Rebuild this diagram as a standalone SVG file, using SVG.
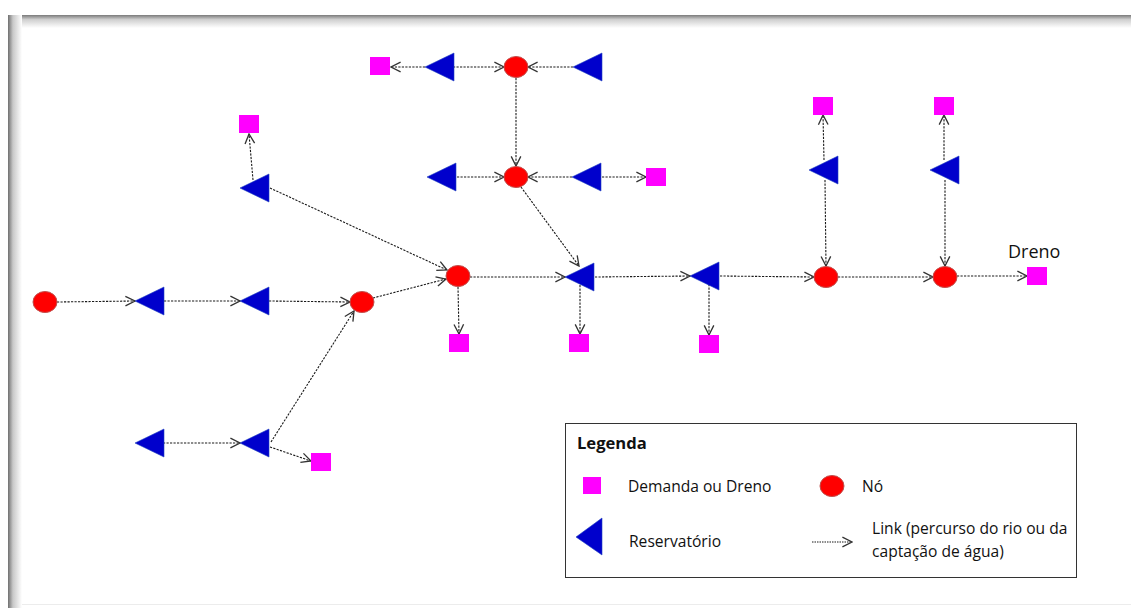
<svg xmlns="http://www.w3.org/2000/svg" width="1131" height="608" viewBox="0 0 1131 608">
<defs>
<linearGradient id="shTop" x1="0" y1="0" x2="0" y2="1">
<stop offset="0" stop-color="#7a7a7a"/><stop offset="0.35" stop-color="#cfcfcf"/><stop offset="1" stop-color="#ffffff"/>
</linearGradient>
<linearGradient id="shLeft" x1="0" y1="0" x2="1" y2="0">
<stop offset="0" stop-color="#6f6f6f"/><stop offset="0.35" stop-color="#c8c8c8"/><stop offset="1" stop-color="#ffffff"/>
</linearGradient>
<marker id="arr" markerUnits="userSpaceOnUse" markerWidth="12" markerHeight="12" viewBox="0 0 10 10" refX="9" refY="5" orient="auto">
<path d="M1,1 L9,5 L1,9" fill="none" stroke="#333" stroke-width="1.1"/>
</marker>
<polygon id="tri" points="0,0 29,-14 29,14"/>
</defs>
<style>
.lnk{fill:none;stroke:#1a1a1a;stroke-width:1.1;stroke-dasharray:2.2 1.3;marker-end:url(#arr)}
.nd{fill:#ff0000;stroke:#c0504d;stroke-width:1}
.rs{fill:#0000cc;stroke:#1f3fbf;stroke-width:0.6}
.dm{fill:#ff00ff}
.t{font-family:"Open Sans","Liberation Sans",sans-serif;font-size:15.6px;fill:#111}
</style>
<rect x="0" y="0" width="1131" height="608" fill="#ffffff"/>
<rect x="8" y="15" width="1123" height="13" fill="url(#shTop)"/>
<rect x="8" y="15" width="14" height="593" fill="url(#shLeft)"/>
<line x1="22" y1="604.5" x2="1131" y2="604.5" stroke="#ececec" stroke-width="1"/>

<g id="connectors">
<line class="lnk" x1="57" y1="302" x2="135" y2="301"/>
<line class="lnk" x1="164" y1="301" x2="240" y2="301"/>
<line class="lnk" x1="269" y1="301" x2="350" y2="302"/>
<line class="lnk" x1="373" y1="298" x2="446" y2="279"/>
<line class="lnk" x1="270" y1="188" x2="447" y2="270"/>
<line class="lnk" x1="253" y1="180" x2="249" y2="134"/>
<line class="lnk" x1="163" y1="443" x2="240" y2="443"/>
<line class="lnk" x1="271" y1="442" x2="354" y2="311"/>
<line class="lnk" x1="270" y1="447" x2="311" y2="461"/>
<line class="lnk" x1="458" y1="287" x2="459" y2="334"/>
<line class="lnk" x1="470" y1="277" x2="565" y2="277"/>
<line class="lnk" x1="521" y1="187" x2="579" y2="266"/>
<line class="lnk" x1="580" y1="285" x2="580" y2="334"/>
<line class="lnk" x1="595" y1="277" x2="690" y2="276"/>
<line class="lnk" x1="709" y1="284" x2="709" y2="335"/>
<line class="lnk" x1="720" y1="276" x2="814" y2="277"/>
<line class="lnk" x1="838" y1="277" x2="933" y2="277"/>
<line class="lnk" x1="957" y1="276" x2="1027" y2="276"/>
<line class="lnk" x1="825" y1="180" x2="826" y2="266"/>
<line class="lnk" x1="824" y1="160" x2="823" y2="115"/>
<line class="lnk" x1="945" y1="180" x2="945" y2="266"/>
<line class="lnk" x1="944" y1="160" x2="944" y2="115"/>
<line class="lnk" x1="516" y1="78" x2="516" y2="166"/>
<line class="lnk" x1="453" y1="67" x2="504" y2="67"/>
<line class="lnk" x1="425" y1="67" x2="391" y2="67"/>
<line class="lnk" x1="573" y1="67" x2="528" y2="67"/>
<line class="lnk" x1="457" y1="177" x2="504" y2="177"/>
<line class="lnk" x1="572" y1="177" x2="528" y2="177"/>
<line class="lnk" x1="602" y1="177" x2="646" y2="177"/>
</g>

<g id="C1"><ellipse class="nd" cx="45" cy="302" rx="12" ry="10.5"/></g>
<g id="C2"><ellipse class="nd" cx="362" cy="302" rx="12" ry="10.5"/></g>
<g id="C3"><ellipse class="nd" cx="458" cy="276" rx="12" ry="10.5"/></g>
<g id="C4"><ellipse class="nd" cx="516" cy="67" rx="12" ry="10.5"/></g>
<g id="C5"><ellipse class="nd" cx="516" cy="177" rx="12" ry="10.5"/></g>
<g id="C6"><ellipse class="nd" cx="826" cy="277" rx="12" ry="10.5"/></g>
<g id="C7"><ellipse class="nd" cx="945" cy="277" rx="12" ry="10.5"/></g>

<g id="T1"><use href="#tri" class="rs" x="135" y="301"/></g>
<g id="T2"><use href="#tri" class="rs" x="240" y="301"/></g>
<g id="T3"><use href="#tri" class="rs" x="240" y="188"/></g>
<g id="T4"><use href="#tri" class="rs" x="135" y="443"/></g>
<g id="T5"><use href="#tri" class="rs" x="240" y="443"/></g>
<g id="T6"><use href="#tri" class="rs" x="425" y="67"/></g>
<g id="T7"><use href="#tri" class="rs" x="573" y="67"/></g>
<g id="T8"><use href="#tri" class="rs" x="427" y="177"/></g>
<g id="T9"><use href="#tri" class="rs" x="572" y="177"/></g>
<g id="T10"><use href="#tri" class="rs" x="565" y="277"/></g>
<g id="T11"><use href="#tri" class="rs" x="690" y="276"/></g>
<g id="T12"><use href="#tri" class="rs" x="809" y="170"/></g>
<g id="T13"><use href="#tri" class="rs" x="930" y="170"/></g>

<g id="S1"><rect class="dm" x="370" y="57" width="20" height="18"/></g>
<g id="S2"><rect class="dm" x="239" y="115" width="20" height="18"/></g>
<g id="S3"><rect class="dm" x="646" y="168" width="20" height="18"/></g>
<g id="S4"><rect class="dm" x="311" y="453" width="20" height="18"/></g>
<g id="S5"><rect class="dm" x="449" y="334" width="20" height="18"/></g>
<g id="S6"><rect class="dm" x="569" y="334" width="20" height="18"/></g>
<g id="S7"><rect class="dm" x="699" y="335" width="20" height="18"/></g>
<g id="S8"><rect class="dm" x="813" y="97" width="20" height="18"/></g>
<g id="S9"><rect class="dm" x="934" y="97" width="20" height="18"/></g>
<g id="S10"><rect class="dm" x="1027" y="267" width="20" height="18"/>
<text class="t" x="1008" y="258" style="font-size:18px">Dreno</text></g>

<g id="legend">
<rect x="565.5" y="423.5" width="511" height="154" fill="#ffffff" stroke="#333" stroke-width="1"/>
<text class="t" x="577" y="449" style="font-weight:bold;font-size:16.6px">Legenda</text>
<rect class="dm" x="583" y="477" width="18" height="17"/>
<text class="t" x="628" y="492">Demanda ou Dreno</text>
<ellipse class="nd" cx="832" cy="486" rx="12" ry="10.5"/>
<text class="t" x="862" y="492">Nó</text>
<polygon class="rs" points="576,537 602,518 602,555"/>
<text class="t" x="629" y="547">Reservatório</text>
<line class="lnk" x1="812" y1="542" x2="852" y2="542" style="stroke-dasharray:1.5 1"/>
<text class="t" x="872" y="534">Link (percurso do rio ou da</text>
<text class="t" x="872" y="557">captação de água)</text>
</g>
</svg>
